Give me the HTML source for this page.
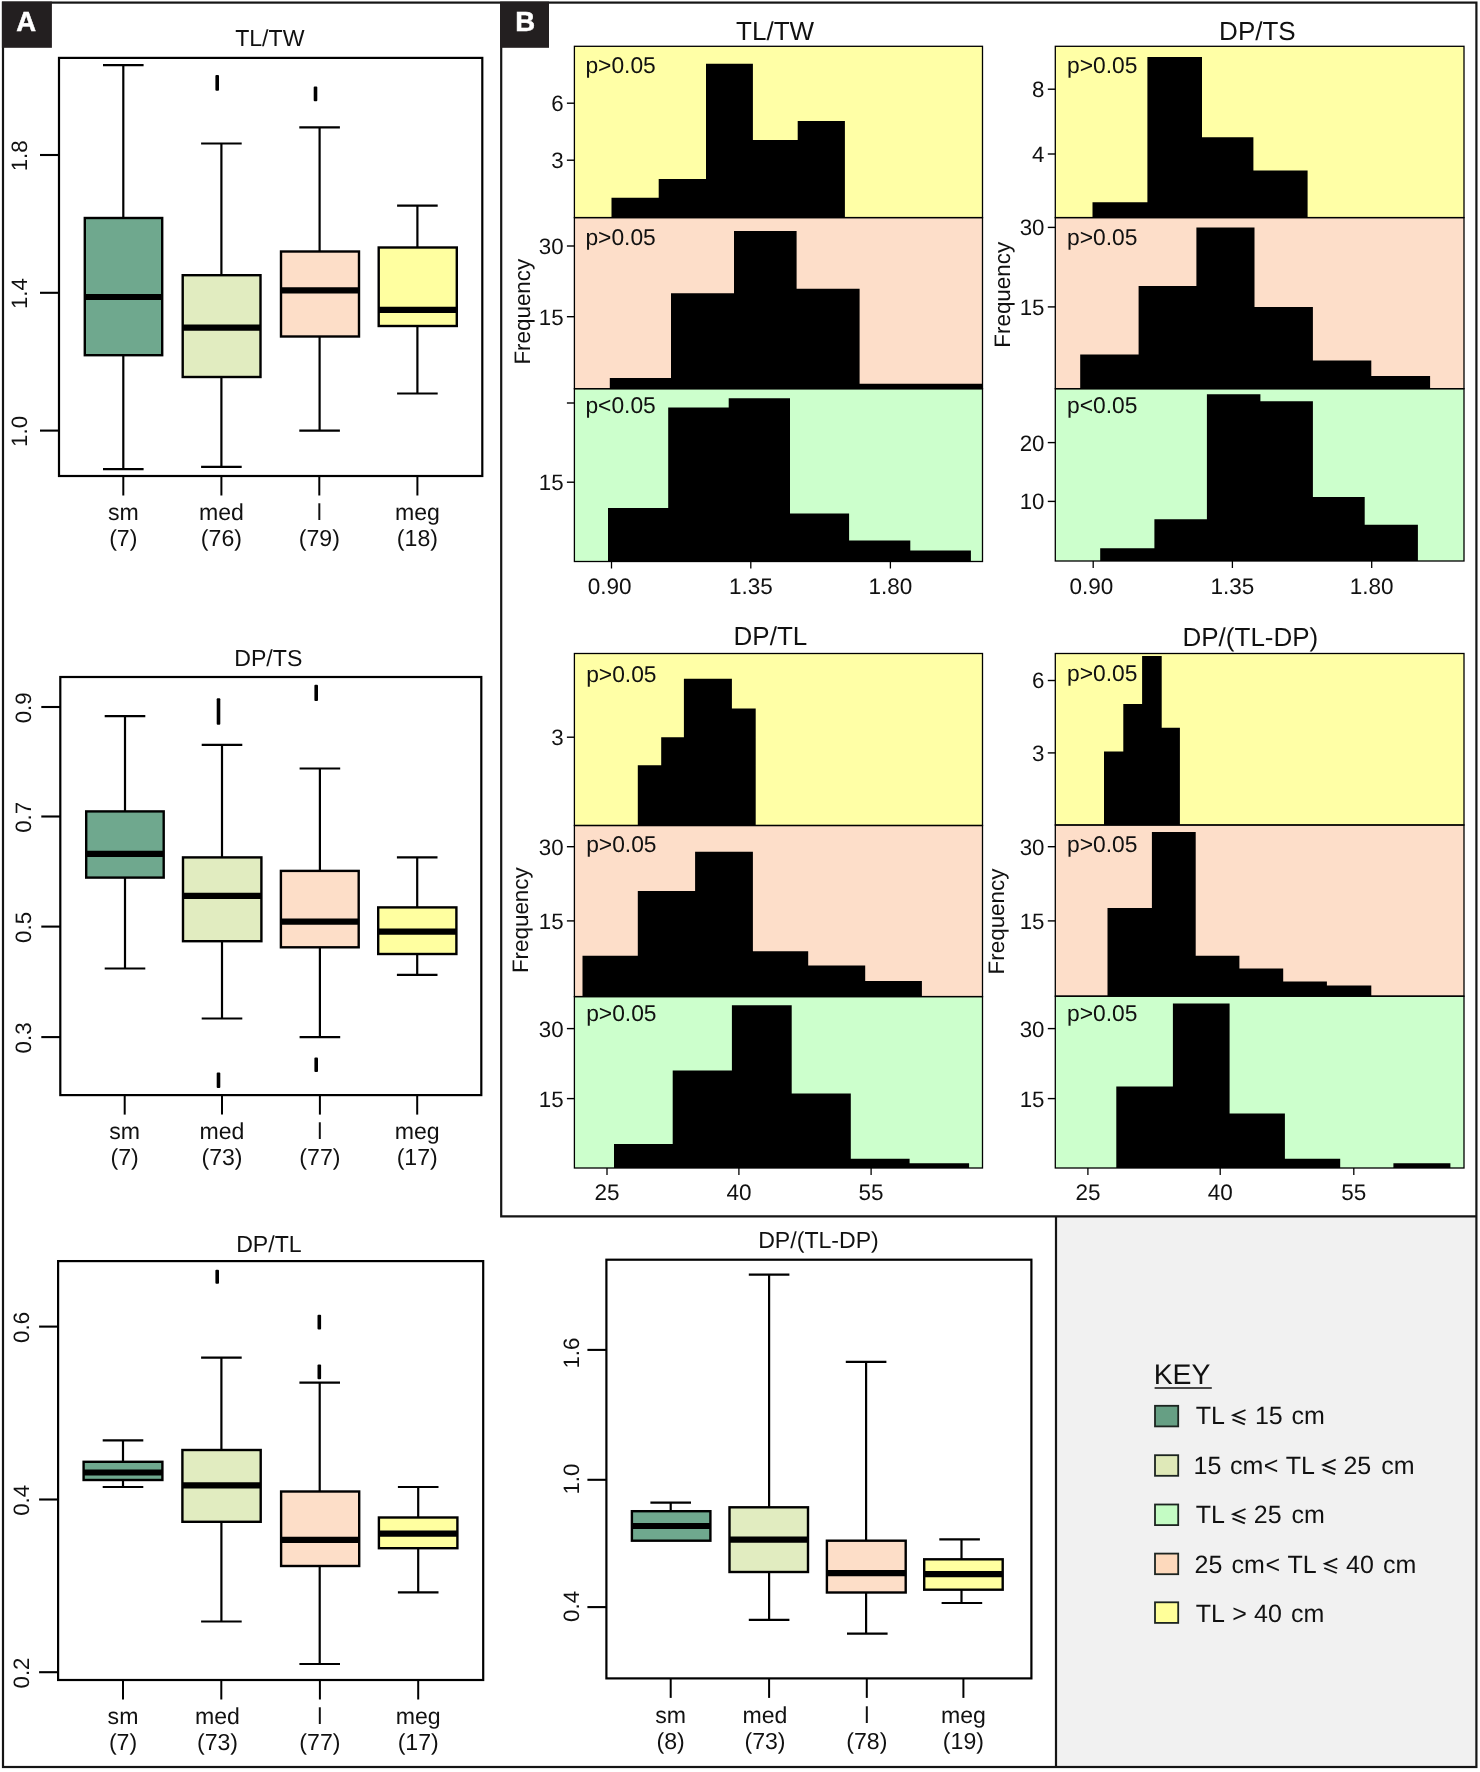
<!DOCTYPE html>
<html><head><meta charset="utf-8"><title>Figure</title>
<style>
html,body{margin:0;padding:0;background:#fff;}
svg{display:block;font-family:"Liberation Sans",sans-serif;will-change:transform;}
text{-webkit-font-smoothing:antialiased;text-rendering:geometricPrecision;}
</style></head>
<body>
<svg width="1480" height="1772" viewBox="0 0 1480 1772" font-family="Liberation Sans, sans-serif">
<rect x="0" y="0" width="1480" height="1772" fill="#fff"/>
<rect x="1056" y="1216.3" width="420.4" height="550.7" fill="#f1f1f1"/>
<rect x="3" y="2.6" width="1473.4" height="1764.4" fill="none" stroke="#151515" stroke-width="2.2"/>
<path d="M501.2 2.6 V1216.3 H1476.4 M1056 1216.3 V1767" fill="none" stroke="#151515" stroke-width="2.2"/>
<rect x="1.9" y="1.6" width="50" height="46.2" fill="#231f20"/>
<text x="26.2" y="31.1" font-size="27.5" text-anchor="middle" fill="#fff" font-weight="bold" stroke="#fff" stroke-width="0.5">A</text>
<rect x="500.1" y="1.6" width="48.9" height="46.2" fill="#231f20"/>
<text x="525.3" y="31.1" font-size="27.5" text-anchor="middle" fill="#fff" font-weight="bold" stroke="#fff" stroke-width="0.5">B</text>
<text x="269.8" y="45.9" font-size="23.1" text-anchor="middle" fill="#111" >TL/TW</text>
<line x1="40" y1="155" x2="59" y2="155" stroke="#000" stroke-width="2.1"/>
<text x="27.1" y="155.8" font-size="22.3" text-anchor="middle" fill="#111" transform="rotate(-90 27.1 155.8)" >1.8</text>
<line x1="40" y1="292.8" x2="59" y2="292.8" stroke="#000" stroke-width="2.1"/>
<text x="27.1" y="293.6" font-size="22.3" text-anchor="middle" fill="#111" transform="rotate(-90 27.1 293.6)" >1.4</text>
<line x1="40" y1="430.6" x2="59" y2="430.6" stroke="#000" stroke-width="2.1"/>
<text x="27.1" y="431.4" font-size="22.3" text-anchor="middle" fill="#111" transform="rotate(-90 27.1 431.4)" >1.0</text>
<line x1="123.3" y1="65.2" x2="123.3" y2="218" stroke="#000" stroke-width="2.2"/>
<line x1="123.3" y1="355.2" x2="123.3" y2="469.2" stroke="#000" stroke-width="2.2"/>
<line x1="103.0" y1="65.2" x2="143.6" y2="65.2" stroke="#000" stroke-width="2.2"/>
<line x1="103.0" y1="469.2" x2="143.6" y2="469.2" stroke="#000" stroke-width="2.2"/>
<rect x="84.8" y="218" width="77.4" height="137.2" fill="#6fa88e" stroke="#000" stroke-width="2.4"/>
<line x1="84.8" y1="297" x2="162.2" y2="297" stroke="#000" stroke-width="6.2"/>
<line x1="221.4" y1="143.5" x2="221.4" y2="275.2" stroke="#000" stroke-width="2.2"/>
<line x1="221.4" y1="377" x2="221.4" y2="466.8" stroke="#000" stroke-width="2.2"/>
<line x1="201.1" y1="143.5" x2="241.7" y2="143.5" stroke="#000" stroke-width="2.2"/>
<line x1="201.1" y1="466.8" x2="241.7" y2="466.8" stroke="#000" stroke-width="2.2"/>
<rect x="182.7" y="275.2" width="77.8" height="101.8" fill="#e1ecc0" stroke="#000" stroke-width="2.4"/>
<line x1="182.7" y1="327.7" x2="260.5" y2="327.7" stroke="#000" stroke-width="6.2"/>
<rect x="215.4" y="75.0" width="3.6" height="15.7" rx="1" fill="#000"/>
<line x1="319.6" y1="127.3" x2="319.6" y2="251.5" stroke="#000" stroke-width="2.2"/>
<line x1="319.6" y1="336.5" x2="319.6" y2="430.6" stroke="#000" stroke-width="2.2"/>
<line x1="299.3" y1="127.3" x2="339.9" y2="127.3" stroke="#000" stroke-width="2.2"/>
<line x1="299.3" y1="430.6" x2="339.9" y2="430.6" stroke="#000" stroke-width="2.2"/>
<rect x="281" y="251.5" width="78" height="85.0" fill="#fddec8" stroke="#000" stroke-width="2.4"/>
<line x1="281" y1="290.3" x2="359" y2="290.3" stroke="#000" stroke-width="6.2"/>
<rect x="313.7" y="86.5" width="3.6" height="14.7" rx="1" fill="#000"/>
<line x1="417.4" y1="205.7" x2="417.4" y2="247.5" stroke="#000" stroke-width="2.2"/>
<line x1="417.4" y1="326" x2="417.4" y2="393.5" stroke="#000" stroke-width="2.2"/>
<line x1="397.1" y1="205.7" x2="437.7" y2="205.7" stroke="#000" stroke-width="2.2"/>
<line x1="397.1" y1="393.5" x2="437.7" y2="393.5" stroke="#000" stroke-width="2.2"/>
<rect x="378.7" y="247.5" width="78.1" height="78.5" fill="#ffffa0" stroke="#000" stroke-width="2.4"/>
<line x1="378.7" y1="309.9" x2="456.8" y2="309.9" stroke="#000" stroke-width="6.2"/>
<rect x="59" y="57.9" width="423.3" height="418.1" fill="none" stroke="#000" stroke-width="2.2"/>
<line x1="123.3" y1="476" x2="123.3" y2="495.5" stroke="#000" stroke-width="2"/>
<text x="123.3" y="519.8" font-size="23.1" text-anchor="middle" fill="#111" >sm</text>
<text x="123.3" y="545.9" font-size="23.1" text-anchor="middle" fill="#111" >(7)</text>
<line x1="221.4" y1="476" x2="221.4" y2="495.5" stroke="#000" stroke-width="2"/>
<text x="221.4" y="519.8" font-size="23.1" text-anchor="middle" fill="#111" >med</text>
<text x="221.4" y="545.9" font-size="23.1" text-anchor="middle" fill="#111" >(76)</text>
<line x1="319.3" y1="476" x2="319.3" y2="495.5" stroke="#000" stroke-width="2"/>
<text x="319.3" y="519.8" font-size="23.1" text-anchor="middle" fill="#111" >l</text>
<text x="319.3" y="545.9" font-size="23.1" text-anchor="middle" fill="#111" >(79)</text>
<line x1="417.4" y1="476" x2="417.4" y2="495.5" stroke="#000" stroke-width="2"/>
<text x="417.4" y="519.8" font-size="23.1" text-anchor="middle" fill="#111" >meg</text>
<text x="417.4" y="545.9" font-size="23.1" text-anchor="middle" fill="#111" >(18)</text>
<text x="268.3" y="666" font-size="23.1" text-anchor="middle" fill="#111" >DP/TS</text>
<line x1="41.3" y1="707" x2="60.3" y2="707" stroke="#000" stroke-width="2.1"/>
<text x="30.999999999999996" y="707.8" font-size="22.3" text-anchor="middle" fill="#111" transform="rotate(-90 30.999999999999996 707.8)" >0.9</text>
<line x1="41.3" y1="816.5" x2="60.3" y2="816.5" stroke="#000" stroke-width="2.1"/>
<text x="30.999999999999996" y="817.3" font-size="22.3" text-anchor="middle" fill="#111" transform="rotate(-90 30.999999999999996 817.3)" >0.7</text>
<line x1="41.3" y1="926.6" x2="60.3" y2="926.6" stroke="#000" stroke-width="2.1"/>
<text x="30.999999999999996" y="927.4" font-size="22.3" text-anchor="middle" fill="#111" transform="rotate(-90 30.999999999999996 927.4)" >0.5</text>
<line x1="41.3" y1="1037.1" x2="60.3" y2="1037.1" stroke="#000" stroke-width="2.1"/>
<text x="30.999999999999996" y="1037.9" font-size="22.3" text-anchor="middle" fill="#111" transform="rotate(-90 30.999999999999996 1037.9)" >0.3</text>
<line x1="125" y1="716.1" x2="125" y2="811.4" stroke="#000" stroke-width="2.2"/>
<line x1="125" y1="877.6" x2="125" y2="968.5" stroke="#000" stroke-width="2.2"/>
<line x1="104.7" y1="716.1" x2="145.3" y2="716.1" stroke="#000" stroke-width="2.2"/>
<line x1="104.7" y1="968.5" x2="145.3" y2="968.5" stroke="#000" stroke-width="2.2"/>
<rect x="86.2" y="811.4" width="77.5" height="66.2" fill="#6fa88e" stroke="#000" stroke-width="2.4"/>
<line x1="86.2" y1="853.9" x2="163.7" y2="853.9" stroke="#000" stroke-width="6.2"/>
<line x1="222" y1="744.9" x2="222" y2="857.4" stroke="#000" stroke-width="2.2"/>
<line x1="222" y1="941.2" x2="222" y2="1018.5" stroke="#000" stroke-width="2.2"/>
<line x1="201.7" y1="744.9" x2="242.3" y2="744.9" stroke="#000" stroke-width="2.2"/>
<line x1="201.7" y1="1018.5" x2="242.3" y2="1018.5" stroke="#000" stroke-width="2.2"/>
<rect x="183" y="857.4" width="78.4" height="83.8" fill="#e1ecc0" stroke="#000" stroke-width="2.4"/>
<line x1="183" y1="895.9" x2="261.4" y2="895.9" stroke="#000" stroke-width="6.2"/>
<rect x="216.7" y="698.3" width="3.6" height="26.5" rx="1" fill="#000"/>
<rect x="216.7" y="1072.6" width="3.6" height="15.4" rx="1" fill="#000"/>
<line x1="319.9" y1="768.5" x2="319.9" y2="870.9" stroke="#000" stroke-width="2.2"/>
<line x1="319.9" y1="947.3" x2="319.9" y2="1037.1" stroke="#000" stroke-width="2.2"/>
<line x1="299.6" y1="768.5" x2="340.2" y2="768.5" stroke="#000" stroke-width="2.2"/>
<line x1="299.6" y1="1037.1" x2="340.2" y2="1037.1" stroke="#000" stroke-width="2.2"/>
<rect x="280.9" y="870.9" width="77.8" height="76.4" fill="#fddec8" stroke="#000" stroke-width="2.4"/>
<line x1="280.9" y1="921.6" x2="358.7" y2="921.6" stroke="#000" stroke-width="6.2"/>
<rect x="314.4" y="684.7" width="3.6" height="16.4" rx="1" fill="#000"/>
<rect x="314.4" y="1057.4" width="3.6" height="14.7" rx="1" fill="#000"/>
<line x1="417.2" y1="857.4" x2="417.2" y2="907.4" stroke="#000" stroke-width="2.2"/>
<line x1="417.2" y1="954" x2="417.2" y2="974.9" stroke="#000" stroke-width="2.2"/>
<line x1="396.9" y1="857.4" x2="437.5" y2="857.4" stroke="#000" stroke-width="2.2"/>
<line x1="396.9" y1="974.9" x2="437.5" y2="974.9" stroke="#000" stroke-width="2.2"/>
<rect x="378.2" y="907.4" width="78.2" height="46.6" fill="#ffffa0" stroke="#000" stroke-width="2.4"/>
<line x1="378.2" y1="931.7" x2="456.4" y2="931.7" stroke="#000" stroke-width="6.2"/>
<rect x="60.3" y="677" width="421.0" height="418.1" fill="none" stroke="#000" stroke-width="2.2"/>
<line x1="124.7" y1="1095.1" x2="124.7" y2="1114.6" stroke="#000" stroke-width="2"/>
<text x="124.7" y="1139.2" font-size="23.1" text-anchor="middle" fill="#111" >sm</text>
<text x="124.7" y="1165.2" font-size="23.1" text-anchor="middle" fill="#111" >(7)</text>
<line x1="222" y1="1095.1" x2="222" y2="1114.6" stroke="#000" stroke-width="2"/>
<text x="222" y="1139.2" font-size="23.1" text-anchor="middle" fill="#111" >med</text>
<text x="222" y="1165.2" font-size="23.1" text-anchor="middle" fill="#111" >(73)</text>
<line x1="319.9" y1="1095.1" x2="319.9" y2="1114.6" stroke="#000" stroke-width="2"/>
<text x="319.9" y="1139.2" font-size="23.1" text-anchor="middle" fill="#111" >l</text>
<text x="319.9" y="1165.2" font-size="23.1" text-anchor="middle" fill="#111" >(77)</text>
<line x1="417.2" y1="1095.1" x2="417.2" y2="1114.6" stroke="#000" stroke-width="2"/>
<text x="417.2" y="1139.2" font-size="23.1" text-anchor="middle" fill="#111" >meg</text>
<text x="417.2" y="1165.2" font-size="23.1" text-anchor="middle" fill="#111" >(17)</text>
<text x="268.9" y="1251.9" font-size="23.1" text-anchor="middle" fill="#111" >DP/TL</text>
<line x1="39.1" y1="1326.6" x2="58.1" y2="1326.6" stroke="#000" stroke-width="2.1"/>
<text x="28.900000000000002" y="1327.4" font-size="22.3" text-anchor="middle" fill="#111" transform="rotate(-90 28.900000000000002 1327.4)" >0.6</text>
<line x1="39.1" y1="1499.5" x2="58.1" y2="1499.5" stroke="#000" stroke-width="2.1"/>
<text x="28.900000000000002" y="1500.3" font-size="22.3" text-anchor="middle" fill="#111" transform="rotate(-90 28.900000000000002 1500.3)" >0.4</text>
<line x1="39.1" y1="1672.2" x2="58.1" y2="1672.2" stroke="#000" stroke-width="2.1"/>
<text x="28.900000000000002" y="1673.0" font-size="22.3" text-anchor="middle" fill="#111" transform="rotate(-90 28.900000000000002 1673.0)" >0.2</text>
<line x1="123" y1="1440.4" x2="123" y2="1461.8" stroke="#000" stroke-width="2.2"/>
<line x1="123" y1="1480" x2="123" y2="1487" stroke="#000" stroke-width="2.2"/>
<line x1="102.7" y1="1440.4" x2="143.3" y2="1440.4" stroke="#000" stroke-width="2.2"/>
<line x1="102.7" y1="1487" x2="143.3" y2="1487" stroke="#000" stroke-width="2.2"/>
<rect x="83.6" y="1461.8" width="78.8" height="18.2" fill="#6fa88e" stroke="#000" stroke-width="2.4"/>
<line x1="83.6" y1="1472.5" x2="162.4" y2="1472.5" stroke="#000" stroke-width="6.2"/>
<line x1="221.4" y1="1357.6" x2="221.4" y2="1450" stroke="#000" stroke-width="2.2"/>
<line x1="221.4" y1="1521.8" x2="221.4" y2="1621.5" stroke="#000" stroke-width="2.2"/>
<line x1="201.1" y1="1357.6" x2="241.7" y2="1357.6" stroke="#000" stroke-width="2.2"/>
<line x1="201.1" y1="1621.5" x2="241.7" y2="1621.5" stroke="#000" stroke-width="2.2"/>
<rect x="182.4" y="1450" width="78.3" height="71.8" fill="#e1ecc0" stroke="#000" stroke-width="2.4"/>
<line x1="182.4" y1="1485.4" x2="260.7" y2="1485.4" stroke="#000" stroke-width="6.2"/>
<rect x="215.4" y="1269.8" width="3.6" height="14.0" rx="1" fill="#000"/>
<line x1="319.7" y1="1382.6" x2="319.7" y2="1491.5" stroke="#000" stroke-width="2.2"/>
<line x1="319.7" y1="1566" x2="319.7" y2="1664" stroke="#000" stroke-width="2.2"/>
<line x1="299.4" y1="1382.6" x2="340.0" y2="1382.6" stroke="#000" stroke-width="2.2"/>
<line x1="299.4" y1="1664" x2="340.0" y2="1664" stroke="#000" stroke-width="2.2"/>
<rect x="281.1" y="1491.5" width="78.1" height="74.5" fill="#fddec8" stroke="#000" stroke-width="2.4"/>
<line x1="281.1" y1="1539.8" x2="359.2" y2="1539.8" stroke="#000" stroke-width="6.2"/>
<rect x="317.5" y="1314.7" width="3.6" height="14.8" rx="1" fill="#000"/>
<rect x="317.5" y="1364.4" width="3.6" height="14.8" rx="1" fill="#000"/>
<line x1="418.2" y1="1487" x2="418.2" y2="1517.5" stroke="#000" stroke-width="2.2"/>
<line x1="418.2" y1="1548.2" x2="418.2" y2="1592.4" stroke="#000" stroke-width="2.2"/>
<line x1="397.9" y1="1487" x2="438.5" y2="1487" stroke="#000" stroke-width="2.2"/>
<line x1="397.9" y1="1592.4" x2="438.5" y2="1592.4" stroke="#000" stroke-width="2.2"/>
<rect x="378.9" y="1517.5" width="78.5" height="30.7" fill="#ffffa0" stroke="#000" stroke-width="2.4"/>
<line x1="378.9" y1="1533.6" x2="457.4" y2="1533.6" stroke="#000" stroke-width="6.2"/>
<rect x="58.1" y="1261.1" width="425.1" height="418.9" fill="none" stroke="#000" stroke-width="2.2"/>
<line x1="123" y1="1680" x2="123" y2="1699.5" stroke="#000" stroke-width="2"/>
<text x="123" y="1723.6" font-size="23.1" text-anchor="middle" fill="#111" >sm</text>
<text x="123" y="1749.6" font-size="23.1" text-anchor="middle" fill="#111" >(7)</text>
<line x1="221.3" y1="1680" x2="221.3" y2="1699.5" stroke="#000" stroke-width="2"/>
<text x="217.5" y="1723.6" font-size="23.1" text-anchor="middle" fill="#111" >med</text>
<text x="217.5" y="1749.6" font-size="23.1" text-anchor="middle" fill="#111" >(73)</text>
<line x1="319.9" y1="1680" x2="319.9" y2="1699.5" stroke="#000" stroke-width="2"/>
<text x="319.9" y="1723.6" font-size="23.1" text-anchor="middle" fill="#111" >l</text>
<text x="319.9" y="1749.6" font-size="23.1" text-anchor="middle" fill="#111" >(77)</text>
<line x1="418.2" y1="1680" x2="418.2" y2="1699.5" stroke="#000" stroke-width="2"/>
<text x="418.2" y="1723.6" font-size="23.1" text-anchor="middle" fill="#111" >meg</text>
<text x="418.2" y="1749.6" font-size="23.1" text-anchor="middle" fill="#111" >(17)</text>
<text x="818.5" y="1247.8" font-size="23.1" text-anchor="middle" fill="#111" >DP/(TL-DP)</text>
<line x1="587.4" y1="1349.9" x2="606.4" y2="1349.9" stroke="#000" stroke-width="2.1"/>
<text x="578.8" y="1353.1" font-size="22.3" text-anchor="middle" fill="#111" transform="rotate(-90 578.8 1353.1)" >1.6</text>
<line x1="587.4" y1="1479.8" x2="606.4" y2="1479.8" stroke="#000" stroke-width="2.1"/>
<text x="578.8" y="1479.1" font-size="22.3" text-anchor="middle" fill="#111" transform="rotate(-90 578.8 1479.1)" >1.0</text>
<line x1="587.4" y1="1607.1" x2="606.4" y2="1607.1" stroke="#000" stroke-width="2.1"/>
<text x="578.8" y="1606.4" font-size="22.3" text-anchor="middle" fill="#111" transform="rotate(-90 578.8 1606.4)" >0.4</text>
<line x1="670.7" y1="1502.7" x2="670.7" y2="1511.2" stroke="#000" stroke-width="2.2"/>
<line x1="670.7" y1="1540.7" x2="670.7" y2="1540.7" stroke="#000" stroke-width="2.2"/>
<line x1="650.4" y1="1502.7" x2="691.0" y2="1502.7" stroke="#000" stroke-width="2.2"/>
<rect x="631.9" y="1511.2" width="78.5" height="29.5" fill="#6fa88e" stroke="#000" stroke-width="2.4"/>
<line x1="631.9" y1="1526" x2="710.4" y2="1526" stroke="#000" stroke-width="6.2"/>
<line x1="769.1" y1="1274.7" x2="769.1" y2="1507.3" stroke="#000" stroke-width="2.2"/>
<line x1="769.1" y1="1572" x2="769.1" y2="1619.9" stroke="#000" stroke-width="2.2"/>
<line x1="748.8" y1="1274.7" x2="789.4" y2="1274.7" stroke="#000" stroke-width="2.2"/>
<line x1="748.8" y1="1619.9" x2="789.4" y2="1619.9" stroke="#000" stroke-width="2.2"/>
<rect x="729.5" y="1507.3" width="78.5" height="64.7" fill="#e1ecc0" stroke="#000" stroke-width="2.4"/>
<line x1="729.5" y1="1539.7" x2="808" y2="1539.7" stroke="#000" stroke-width="6.2"/>
<line x1="866.1" y1="1361.8" x2="866.1" y2="1540.7" stroke="#000" stroke-width="2.2"/>
<line x1="866.1" y1="1592.5" x2="866.1" y2="1633.6" stroke="#000" stroke-width="2.2"/>
<line x1="845.8" y1="1361.8" x2="886.4" y2="1361.8" stroke="#000" stroke-width="2.2"/>
<line x1="847.0" y1="1633.6" x2="887.6" y2="1633.6" stroke="#000" stroke-width="2.2"/>
<rect x="826.9" y="1540.7" width="78.8" height="51.8" fill="#fddec8" stroke="#000" stroke-width="2.4"/>
<line x1="826.9" y1="1573.1" x2="905.7" y2="1573.1" stroke="#000" stroke-width="6.2"/>
<line x1="961.5" y1="1539.4" x2="961.5" y2="1559.3" stroke="#000" stroke-width="2.2"/>
<line x1="961.5" y1="1589.7" x2="961.5" y2="1603" stroke="#000" stroke-width="2.2"/>
<line x1="939.3" y1="1539.4" x2="979.9" y2="1539.4" stroke="#000" stroke-width="2.2"/>
<line x1="941.6" y1="1603" x2="982.2" y2="1603" stroke="#000" stroke-width="2.2"/>
<rect x="924.2" y="1559.3" width="78.5" height="30.4" fill="#ffffa0" stroke="#000" stroke-width="2.4"/>
<line x1="924.2" y1="1574.2" x2="1002.7" y2="1574.2" stroke="#000" stroke-width="6.2"/>
<rect x="606.4" y="1259.7" width="425.0" height="418.7" fill="none" stroke="#000" stroke-width="2.2"/>
<line x1="670.7" y1="1678.4" x2="670.7" y2="1697.9" stroke="#000" stroke-width="2"/>
<text x="670.7" y="1722.8" font-size="23.1" text-anchor="middle" fill="#111" >sm</text>
<text x="670.7" y="1749" font-size="23.1" text-anchor="middle" fill="#111" >(8)</text>
<line x1="769.1" y1="1678.4" x2="769.1" y2="1697.9" stroke="#000" stroke-width="2"/>
<text x="765" y="1722.8" font-size="23.1" text-anchor="middle" fill="#111" >med</text>
<text x="765" y="1749" font-size="23.1" text-anchor="middle" fill="#111" >(73)</text>
<line x1="866.8" y1="1678.4" x2="866.8" y2="1697.9" stroke="#000" stroke-width="2"/>
<text x="866.8" y="1722.8" font-size="23.1" text-anchor="middle" fill="#111" >l</text>
<text x="866.8" y="1749" font-size="23.1" text-anchor="middle" fill="#111" >(78)</text>
<line x1="963.4" y1="1678.4" x2="963.4" y2="1697.9" stroke="#000" stroke-width="2"/>
<text x="963.4" y="1722.8" font-size="23.1" text-anchor="middle" fill="#111" >meg</text>
<text x="963.4" y="1749" font-size="23.1" text-anchor="middle" fill="#111" >(19)</text>
<text x="775.1" y="40.3" font-size="26" text-anchor="middle" fill="#111" >TL/TW</text>
<rect x="574.4" y="46.3" width="408.1" height="171.3" fill="#ffffa6"/>
<path d="M611.5 217.6V197.7H658.7V179.1H706V63.7H752.9V140H797.7V121.1H844.9V217.6Z" fill="#000"/>
<line x1="566.9" y1="103.2" x2="574.4" y2="103.2" stroke="#000" stroke-width="1.4"/>
<text x="563.6" y="111.10000000000001" font-size="22.3" text-anchor="end" fill="#111" >6</text>
<line x1="566.9" y1="160.2" x2="574.4" y2="160.2" stroke="#000" stroke-width="1.4"/>
<text x="563.6" y="168.1" font-size="22.3" text-anchor="end" fill="#111" >3</text>
<text x="585.4" y="73.2" font-size="22.8" text-anchor="start" fill="#111" >p&gt;0.05</text>
<rect x="574.4" y="217.6" width="408.1" height="171.1" fill="#fddec9"/>
<path d="M609.8 388.7V377.9H671V293.2H734V230.9H796.6V288.7H859.6V383.8H982.4V388.7Z" fill="#000"/>
<line x1="566.9" y1="246" x2="574.4" y2="246" stroke="#000" stroke-width="1.4"/>
<text x="563.6" y="253.9" font-size="22.3" text-anchor="end" fill="#111" >30</text>
<line x1="566.9" y1="316.7" x2="574.4" y2="316.7" stroke="#000" stroke-width="1.4"/>
<text x="563.6" y="324.59999999999997" font-size="22.3" text-anchor="end" fill="#111" >15</text>
<text x="585.4" y="244.6" font-size="22.8" text-anchor="start" fill="#111" >p&gt;0.05</text>
<rect x="574.4" y="388.7" width="408.1" height="172.8" fill="#ccffcc"/>
<path d="M608 561.5V508H668.2V407.6H728.7V398.2H790V513.6H849.1V540.6H910.3V550.4H970.9V561.5Z" fill="#000"/>
<line x1="566.9" y1="403" x2="574.4" y2="403" stroke="#000" stroke-width="1.4"/>
<line x1="566.9" y1="482.2" x2="574.4" y2="482.2" stroke="#000" stroke-width="1.4"/>
<text x="563.6" y="490.09999999999997" font-size="22.3" text-anchor="end" fill="#111" >15</text>
<text x="585.4" y="413.3" font-size="22.8" text-anchor="start" fill="#111" >p&lt;0.05</text>
<rect x="574.4" y="46.3" width="408.1" height="171.3" fill="none" stroke="#000" stroke-width="1.3"/>
<rect x="574.4" y="217.6" width="408.1" height="171.1" fill="none" stroke="#000" stroke-width="1.3"/>
<rect x="574.4" y="388.7" width="408.1" height="172.8" fill="none" stroke="#000" stroke-width="1.3"/>
<line x1="611.5" y1="561.5" x2="611.5" y2="568.5" stroke="#000" stroke-width="1.3"/>
<text x="609.7" y="593.9" font-size="22.5" text-anchor="middle" fill="#111" >0.90</text>
<line x1="750.8" y1="561.5" x2="750.8" y2="568.5" stroke="#000" stroke-width="1.3"/>
<text x="750.8" y="593.9" font-size="22.5" text-anchor="middle" fill="#111" >1.35</text>
<line x1="890.4" y1="561.5" x2="890.4" y2="568.5" stroke="#000" stroke-width="1.3"/>
<text x="890.4" y="593.9" font-size="22.5" text-anchor="middle" fill="#111" >1.80</text>
<text x="530" y="311.7" font-size="22.4" text-anchor="middle" fill="#111" transform="rotate(-90 530 311.7)" >Frequency</text>
<text x="1257.4" y="40.3" font-size="26" text-anchor="middle" fill="#111" >DP/TS</text>
<rect x="1055.3" y="46.3" width="408.7" height="171.3" fill="#ffffa6"/>
<path d="M1092.5 217.6V202.2H1147.4V57H1202V137.2H1253.4V170.4H1307.6V217.6Z" fill="#000"/>
<line x1="1047.8" y1="89.2" x2="1055.3" y2="89.2" stroke="#000" stroke-width="1.4"/>
<text x="1044.5" y="97.10000000000001" font-size="22.3" text-anchor="end" fill="#111" >8</text>
<line x1="1047.8" y1="154" x2="1055.3" y2="154" stroke="#000" stroke-width="1.4"/>
<text x="1044.5" y="161.9" font-size="22.3" text-anchor="end" fill="#111" >4</text>
<text x="1067.1" y="73.2" font-size="22.8" text-anchor="start" fill="#111" >p&gt;0.05</text>
<rect x="1055.3" y="217.6" width="408.7" height="171.1" fill="#fddec9"/>
<path d="M1080.2 388.7V354.4H1138.6V285.9H1196.4V227.4H1254.5V306.9H1312.9V360.4H1371.3V376.1H1430.1V388.7Z" fill="#000"/>
<line x1="1047.8" y1="227.4" x2="1055.3" y2="227.4" stroke="#000" stroke-width="1.4"/>
<text x="1044.5" y="235.3" font-size="22.3" text-anchor="end" fill="#111" >30</text>
<line x1="1047.8" y1="306.9" x2="1055.3" y2="306.9" stroke="#000" stroke-width="1.4"/>
<text x="1044.5" y="314.79999999999995" font-size="22.3" text-anchor="end" fill="#111" >15</text>
<text x="1067.1" y="244.6" font-size="22.8" text-anchor="start" fill="#111" >p&gt;0.05</text>
<rect x="1055.3" y="388.7" width="408.7" height="172.3" fill="#ccffcc"/>
<path d="M1100.2 561V548.3H1154.4V519.2H1206.9V394.3H1260.4V401.3H1312.9V496.9H1364.7V524.8H1417.9V561Z" fill="#000"/>
<line x1="1047.8" y1="442.6" x2="1055.3" y2="442.6" stroke="#000" stroke-width="1.4"/>
<text x="1044.5" y="450.5" font-size="22.3" text-anchor="end" fill="#111" >20</text>
<line x1="1047.8" y1="501.4" x2="1055.3" y2="501.4" stroke="#000" stroke-width="1.4"/>
<text x="1044.5" y="509.29999999999995" font-size="22.3" text-anchor="end" fill="#111" >10</text>
<text x="1067.1" y="413.3" font-size="22.8" text-anchor="start" fill="#111" >p&lt;0.05</text>
<rect x="1055.3" y="46.3" width="408.7" height="171.3" fill="none" stroke="#000" stroke-width="1.3"/>
<rect x="1055.3" y="217.6" width="408.7" height="171.1" fill="none" stroke="#000" stroke-width="1.3"/>
<rect x="1055.3" y="388.7" width="408.7" height="172.3" fill="none" stroke="#000" stroke-width="1.3"/>
<line x1="1093.2" y1="561" x2="1093.2" y2="568" stroke="#000" stroke-width="1.3"/>
<text x="1091.4" y="593.9" font-size="22.5" text-anchor="middle" fill="#111" >0.90</text>
<line x1="1232.4" y1="561" x2="1232.4" y2="568" stroke="#000" stroke-width="1.3"/>
<text x="1232.4" y="593.9" font-size="22.5" text-anchor="middle" fill="#111" >1.35</text>
<line x1="1371.7" y1="561" x2="1371.7" y2="568" stroke="#000" stroke-width="1.3"/>
<text x="1371.7" y="593.9" font-size="22.5" text-anchor="middle" fill="#111" >1.80</text>
<text x="1010.3" y="294.8" font-size="22.4" text-anchor="middle" fill="#111" transform="rotate(-90 1010.3 294.8)" >Frequency</text>
<text x="770.4" y="645.4" font-size="26" text-anchor="middle" fill="#111" >DP/TL</text>
<rect x="574.4" y="653.5" width="408.1" height="172.0" fill="#ffffa6"/>
<path d="M637.8 825.5V765.2H661.2V737.2H683.9V678.7H731.9V708.5H755.7V825.5Z" fill="#000"/>
<line x1="566.9" y1="737.2" x2="574.4" y2="737.2" stroke="#000" stroke-width="1.4"/>
<text x="563.6" y="745.1" font-size="22.3" text-anchor="end" fill="#111" >3</text>
<text x="586.2" y="681.5" font-size="22.8" text-anchor="start" fill="#111" >p&gt;0.05</text>
<rect x="574.4" y="825.5" width="408.1" height="171.1" fill="#fddec9"/>
<path d="M582.5 996.6V955.7H637.8V891.0H695.1V851.8H752.9V951.2H808.2V965.5H865.2V980.9H921.9V996.6Z" fill="#000"/>
<line x1="566.9" y1="846.7" x2="574.4" y2="846.7" stroke="#000" stroke-width="1.4"/>
<text x="563.6" y="854.6" font-size="22.3" text-anchor="end" fill="#111" >30</text>
<line x1="566.9" y1="920.9" x2="574.4" y2="920.9" stroke="#000" stroke-width="1.4"/>
<text x="563.6" y="928.8" font-size="22.3" text-anchor="end" fill="#111" >15</text>
<text x="586.2" y="852.3" font-size="22.8" text-anchor="start" fill="#111" >p&gt;0.05</text>
<rect x="574.4" y="996.6" width="408.1" height="171.4" fill="#ccffcc"/>
<path d="M614 1168V1144.1H672.7V1070.6H731.9V1005.2H791.7V1093.4H850.8V1158.8H909.6V1163.3H969.1V1168Z" fill="#000"/>
<line x1="566.9" y1="1028.6" x2="574.4" y2="1028.6" stroke="#000" stroke-width="1.4"/>
<text x="563.6" y="1036.5" font-size="22.3" text-anchor="end" fill="#111" >30</text>
<line x1="566.9" y1="1098.6" x2="574.4" y2="1098.6" stroke="#000" stroke-width="1.4"/>
<text x="563.6" y="1106.5" font-size="22.3" text-anchor="end" fill="#111" >15</text>
<text x="586.2" y="1020.9" font-size="22.8" text-anchor="start" fill="#111" >p&gt;0.05</text>
<rect x="574.4" y="653.5" width="408.1" height="172.0" fill="none" stroke="#000" stroke-width="1.3"/>
<rect x="574.4" y="825.5" width="408.1" height="171.1" fill="none" stroke="#000" stroke-width="1.3"/>
<rect x="574.4" y="996.6" width="408.1" height="171.4" fill="none" stroke="#000" stroke-width="1.3"/>
<line x1="607" y1="1168" x2="607" y2="1175" stroke="#000" stroke-width="1.3"/>
<text x="607" y="1200.3" font-size="22.5" text-anchor="middle" fill="#111" >25</text>
<line x1="738.9" y1="1168" x2="738.9" y2="1175" stroke="#000" stroke-width="1.3"/>
<text x="738.9" y="1200.3" font-size="22.5" text-anchor="middle" fill="#111" >40</text>
<line x1="871.1" y1="1168" x2="871.1" y2="1175" stroke="#000" stroke-width="1.3"/>
<text x="871.1" y="1200.3" font-size="22.5" text-anchor="middle" fill="#111" >55</text>
<text x="528.5" y="920.2" font-size="22.4" text-anchor="middle" fill="#111" transform="rotate(-90 528.5 920.2)" >Frequency</text>
<text x="1250.4" y="645.7" font-size="26" text-anchor="middle" fill="#111" >DP/(TL-DP)</text>
<rect x="1055.3" y="653.5" width="408.7" height="171.5" fill="#ffffa6"/>
<path d="M1104 825V751.5H1123.3V703.9H1142.1V656H1161.7V727.7H1179.9V825Z" fill="#000"/>
<line x1="1047.8" y1="680.5" x2="1055.3" y2="680.5" stroke="#000" stroke-width="1.4"/>
<text x="1044.5" y="688.4" font-size="22.3" text-anchor="end" fill="#111" >6</text>
<line x1="1047.8" y1="752.9" x2="1055.3" y2="752.9" stroke="#000" stroke-width="1.4"/>
<text x="1044.5" y="760.8" font-size="22.3" text-anchor="end" fill="#111" >3</text>
<text x="1067.1" y="680.7" font-size="22.8" text-anchor="start" fill="#111" >p&gt;0.05</text>
<rect x="1055.3" y="825" width="408.7" height="171.2" fill="#fddec9"/>
<path d="M1107.5 996.2V907.9H1151.9V832.0H1195.7V955.8H1239.4V968.4H1283.2V981.4H1326.9V985.6H1371.3V996.2Z" fill="#000"/>
<line x1="1047.8" y1="846.7" x2="1055.3" y2="846.7" stroke="#000" stroke-width="1.4"/>
<text x="1044.5" y="854.6" font-size="22.3" text-anchor="end" fill="#111" >30</text>
<line x1="1047.8" y1="920.9" x2="1055.3" y2="920.9" stroke="#000" stroke-width="1.4"/>
<text x="1044.5" y="928.8" font-size="22.3" text-anchor="end" fill="#111" >15</text>
<text x="1067.1" y="852.2" font-size="22.8" text-anchor="start" fill="#111" >p&gt;0.05</text>
<rect x="1055.3" y="996.2" width="408.7" height="171.8" fill="#ccffcc"/>
<path d="M1116.3 1168V1086.4H1172.9V1003.4H1229.6V1113.6H1284.9V1158.8H1340.2V1168ZM1393.4 1168V1163.3H1450.4V1168Z" fill="#000"/>
<line x1="1047.8" y1="1028.6" x2="1055.3" y2="1028.6" stroke="#000" stroke-width="1.4"/>
<text x="1044.5" y="1036.5" font-size="22.3" text-anchor="end" fill="#111" >30</text>
<line x1="1047.8" y1="1098.6" x2="1055.3" y2="1098.6" stroke="#000" stroke-width="1.4"/>
<text x="1044.5" y="1106.5" font-size="22.3" text-anchor="end" fill="#111" >15</text>
<text x="1067.1" y="1020.7" font-size="22.8" text-anchor="start" fill="#111" >p&gt;0.05</text>
<rect x="1055.3" y="653.5" width="408.7" height="171.5" fill="none" stroke="#000" stroke-width="1.3"/>
<rect x="1055.3" y="825" width="408.7" height="171.2" fill="none" stroke="#000" stroke-width="1.3"/>
<rect x="1055.3" y="996.2" width="408.7" height="171.8" fill="none" stroke="#000" stroke-width="1.3"/>
<line x1="1087.9" y1="1168" x2="1087.9" y2="1175" stroke="#000" stroke-width="1.3"/>
<text x="1087.9" y="1200.3" font-size="22.5" text-anchor="middle" fill="#111" >25</text>
<line x1="1220.2" y1="1168" x2="1220.2" y2="1175" stroke="#000" stroke-width="1.3"/>
<text x="1220.2" y="1200.3" font-size="22.5" text-anchor="middle" fill="#111" >40</text>
<line x1="1353.8" y1="1168" x2="1353.8" y2="1175" stroke="#000" stroke-width="1.3"/>
<text x="1353.8" y="1200.3" font-size="22.5" text-anchor="middle" fill="#111" >55</text>
<text x="1003.7" y="921.5" font-size="22.4" text-anchor="middle" fill="#111" transform="rotate(-90 1003.7 921.5)" >Frequency</text>
<text x="1153.7" y="1383.6" font-size="28.4" text-anchor="start" fill="#111" >KEY</text>
<line x1="1154.6" y1="1388" x2="1211.8" y2="1388" stroke="#111" stroke-width="1.6"/>
<rect x="1155" y="1405.8" width="23.2" height="20.6" fill="#669f84" stroke="#1c2420" stroke-width="1.8"/>
<rect x="1155" y="1455.2" width="23.2" height="20.6" fill="#dfe9b8" stroke="#1c2420" stroke-width="1.8"/>
<rect x="1155" y="1504.5" width="23.2" height="20.6" fill="#c4fcc4" stroke="#1c2420" stroke-width="1.8"/>
<rect x="1155" y="1553.6000000000001" width="23.2" height="20.6" fill="#fdd9bc" stroke="#1c2420" stroke-width="1.8"/>
<rect x="1155" y="1602.3" width="23.2" height="20.6" fill="#ffff99" stroke="#1c2420" stroke-width="1.8"/>
<text x="1195.8" y="1423.9" font-size="25" text-anchor="start" fill="#111" >TL</text>
<path d="M1245.5 1410.0 L1233.2 1415.2 L1245.5 1419.9" fill="none" stroke="#111" stroke-width="1.8" stroke-linejoin="miter"/>
<path d="M1232.5 1419.4 L1244.8 1424.4" fill="none" stroke="#111" stroke-width="1.8"/>
<text x="1254.95" y="1423.9" font-size="25" text-anchor="start" fill="#111" >15</text>
<text x="1291.4" y="1423.9" font-size="25" text-anchor="start" fill="#111" >cm</text>
<text x="1193.5" y="1473.6" font-size="25" text-anchor="start" fill="#111" >15</text>
<text x="1229.95" y="1473.6" font-size="25" text-anchor="start" fill="#111" >cm</text>
<text x="1263.65" y="1473.6" font-size="25" text-anchor="start" fill="#111" >&lt;</text>
<text x="1285.8" y="1473.6" font-size="25" text-anchor="start" fill="#111" >TL</text>
<path d="M1335.65 1459.6999999999998 L1323.35 1464.8999999999999 L1335.65 1469.6" fill="none" stroke="#111" stroke-width="1.8" stroke-linejoin="miter"/>
<path d="M1322.65 1469.1 L1334.95 1474.1" fill="none" stroke="#111" stroke-width="1.8"/>
<text x="1343.4" y="1473.6" font-size="25" text-anchor="start" fill="#111" >25</text>
<text x="1381.3" y="1473.6" font-size="25" text-anchor="start" fill="#111" >cm</text>
<text x="1195.8" y="1522.9" font-size="25" text-anchor="start" fill="#111" >TL</text>
<path d="M1245.5 1509.0 L1233.2 1514.2 L1245.5 1518.9" fill="none" stroke="#111" stroke-width="1.8" stroke-linejoin="miter"/>
<path d="M1232.5 1518.4 L1244.8 1523.4" fill="none" stroke="#111" stroke-width="1.8"/>
<text x="1253.8" y="1522.9" font-size="25" text-anchor="start" fill="#111" >25</text>
<text x="1291.4" y="1522.9" font-size="25" text-anchor="start" fill="#111" >cm</text>
<text x="1194.6" y="1572.5" font-size="25" text-anchor="start" fill="#111" >25</text>
<text x="1231.6" y="1572.5" font-size="25" text-anchor="start" fill="#111" >cm</text>
<text x="1265.4" y="1572.5" font-size="25" text-anchor="start" fill="#111" >&lt;</text>
<text x="1287.4" y="1572.5" font-size="25" text-anchor="start" fill="#111" >TL</text>
<path d="M1337.3 1558.6 L1325.0 1563.8 L1337.3 1568.5" fill="none" stroke="#111" stroke-width="1.8" stroke-linejoin="miter"/>
<path d="M1324.3 1568.0 L1336.6 1573.0" fill="none" stroke="#111" stroke-width="1.8"/>
<text x="1346.0" y="1572.5" font-size="25" text-anchor="start" fill="#111" >40</text>
<text x="1382.95" y="1572.5" font-size="25" text-anchor="start" fill="#111" >cm</text>
<text x="1195.75" y="1622.3" font-size="25" text-anchor="start" fill="#111" >TL</text>
<text x="1232.2" y="1622.3" font-size="25" text-anchor="start" fill="#111" >&gt;</text>
<text x="1254.0" y="1622.3" font-size="25" text-anchor="start" fill="#111" >40</text>
<text x="1291.0" y="1622.3" font-size="25" text-anchor="start" fill="#111" >cm</text>
</svg>
</body></html>
